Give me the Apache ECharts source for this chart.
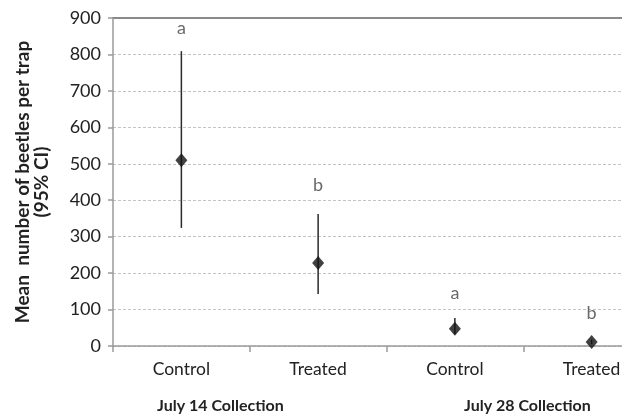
<!DOCTYPE html>
<html><head><meta charset="utf-8">
<script src="https://cdn.jsdelivr.net/npm/echarts@6/dist/echarts.min.js"></script>
<style>html,body{margin:0;padding:0;background:#fff}#c{width:622px;height:418px}</style>
</head><body><div id="c"></div>
<script>
const categories = ['Control', 'Treated', 'Control', 'Treated'];
const means = [510, 228, 47, 11];
const ciLow = [324, 143, 32, 5];
const ciHigh = [809, 362, 77, 18];
const letters = ['a', 'b', 'a', 'b'];
const letterY = [873, 442, 146, 91];
const yTicks = [0, 100, 200, 300, 400, 500, 600, 700, 800, 900];
const groupLabels = ['July 14 Collection', 'July 28 Collection'];

const FONT = 'Lato';
const chart = echarts.init(document.getElementById('c'), null, {renderer: 'canvas'});
const grid = {left: 113, top: 18, height: 328, width: 547, outerBoundsMode: 'none', containLabel: false};

chart.setOption({
  animation: false,
  grid: grid,
  xAxis: [{
    type: 'category', data: categories, boundaryGap: true,
    axisLine: {lineStyle: {color: '#9a9a9a', width: 1.5}},
    axisTick: {show: true, length: 6, lineStyle: {color: '#9a9a9a', width: 1.5}},
    axisLabel: {fontFamily: FONT, fontSize: 17.5, color: '#222', margin: 14}
  }, {
    type: 'category', data: categories, position: 'top',
    axisLine: {show: true, lineStyle: {color: '#8a8a8a', width: 2}},
    axisTick: {show: false}, axisLabel: {show: false}
  }],
  yAxis: {
    type: 'value', min: yTicks[0], max: yTicks[yTicks.length - 1], interval: 100,
    name: 'Mean  number of beetles per trap\n(95% CI)',
    nameLocation: 'middle', nameGap: 62,
    nameTextStyle: {fontFamily: FONT, fontWeight: 'bold', fontSize: 19, color: '#222', lineHeight: 19},
    axisLine: {show: true, lineStyle: {color: '#9a9a9a', width: 1.5}},
    axisTick: {show: true, length: 5, lineStyle: {color: '#9a9a9a', width: 1.5}},
    axisLabel: {fontFamily: FONT, fontSize: 18, color: '#222', margin: 12},
    splitLine: {lineStyle: {color: '#c4c4c4', type: [3, 2], width: 1}}
  },
  series: [{
    type: 'custom',
    data: categories.map((c, i) => [i, ciLow[i], ciHigh[i]]),
    renderItem: function (params, api) {
      const lo = api.coord([api.value(0), api.value(1)]);
      const hi = api.coord([api.value(0), api.value(2)]);
      return {type: 'line', shape: {x1: lo[0], y1: lo[1], x2: hi[0], y2: hi[1]},
        style: {stroke: '#2a2a2a', lineWidth: 1.5}};
    },
    z: 2
  }, {
    type: 'scatter', symbol: 'diamond', symbolSize: [12, 14],
    itemStyle: {color: '#111'},
    data: means.map((v, i) => [i, v]), z: 3
  }, {
    type: 'scatter', symbolSize: 0,
    data: letterY.map((v, i) => [i, v]),
    label: {show: true, position: 'inside', formatter: p => letters[p.dataIndex],
      fontFamily: FONT, fontSize: 18, color: '#444'},
    z: 4
  }],
  graphic: [
    {type: 'text', left: 157, top: 398, style: {text: groupLabels[0], font: 'bold 16px Lato', fill: '#222'}},
    {type: 'text', left: 464, top: 398, style: {text: groupLabels[1], font: 'bold 16px Lato', fill: '#222'}}
  ]
});
</script></body></html>
